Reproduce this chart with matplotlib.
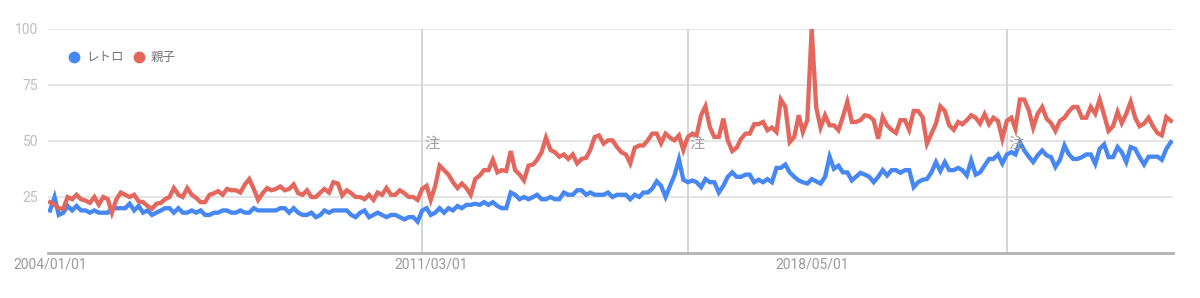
import matplotlib
matplotlib.use("Agg")
import matplotlib.pyplot as plt
import matplotlib.dates as mdates
from matplotlib.lines import Line2D
import pandas as pd

plt.rcParams['font.family'] = ['Roboto', 'Noto Sans CJK JP', 'DejaVu Sans']

# ---- data (monthly, 2004/01 onward) ----
start_month = "2004-01-01"
series_names = ["レトロ", "親子"]

retro = [
    19, 25, 17, 18, 21, 19, 21, 19, 19, 18, 19, 18,
    18, 18, 20, 20, 20, 20, 22, 19, 21, 18, 19, 17,
    18, 19, 20, 20, 18, 20, 18, 18, 19, 18, 19, 17,
    17, 18, 18, 19, 19, 18, 18, 19, 18, 18, 20, 19,
    19, 19, 19, 19, 20, 20, 18, 20, 18, 17, 17, 18,
    16, 17, 19, 18, 19, 19, 19, 19, 17, 16, 18, 19,
    16, 17, 18, 17, 16, 17, 17, 16, 15, 16, 16, 14,
    19, 20, 17, 18, 20, 18, 20, 19, 21, 20, 21.5, 21.5,
    22, 21.5, 22.7, 21.5, 22.7, 21, 20, 20, 27, 26, 24, 25,
    24, 25, 26, 24, 24, 25, 24, 24, 27, 26, 26, 28,
    28, 26, 27, 26, 26, 26, 27, 25, 26, 26, 26, 24,
    26, 25, 27, 27, 28.7, 32, 30, 25, 30, 34.6, 41.8, 32.7,
    31.6, 32.4, 31.6, 29.4, 33, 31.6, 31.6, 27, 30, 34, 36, 34,
    34, 35, 35, 31.6, 32.7, 31.6, 33, 31.6, 38, 38, 39.5,
    36, 34, 32.4, 31.6, 31, 33, 32, 31, 34, 43, 37.6, 39,
    36, 36, 32.4, 34, 35.8, 35, 34, 31.6, 34, 37, 34.6, 37,
    37, 35.8, 37, 37, 29.4, 31.6, 32.7, 33, 36, 40.6, 36.6, 40.6,
    37, 37, 38, 37, 34.6, 41.3, 35, 36, 39, 42, 42, 44,
    40, 44, 45, 44, 49.5, 45.8, 43, 40.6, 43.6, 45.8, 43.6, 42.8,
    38.4, 41.6, 48, 44.3, 42, 42, 42.8, 44, 44, 39.8, 46.5, 48.5,
    42.8, 42.8, 47.3, 45, 40.6, 47.3, 46.5, 42.8, 39.5, 43, 43, 43,
    41.6, 46.5, 49.5,
]

oyako = [
    22.7, 21.6, 20, 19.7, 25, 24, 26, 24, 23.4, 22.4, 25, 21.6,
    25, 24, 18, 24, 27, 26, 25, 26, 23, 22.7, 21, 19.7,
    22, 22.4, 24, 25, 29, 26, 25, 29, 26, 24.6, 22.7, 22.7,
    26, 26.7, 27.6, 26, 28.6, 28, 28, 27, 30.6, 33, 28.6, 23.7,
    26.7, 29, 28, 28.6, 29.7, 28, 28.6, 30.6, 26.7, 26, 28, 25,
    25, 27, 28.6, 27, 31.6, 31, 25.7, 28, 26.7, 25, 25, 24,
    26, 23.7, 27, 26, 29, 26, 26, 28, 26.7, 25, 25, 23.7,
    28.6, 30, 23.7, 30, 39, 37, 35, 31.6, 29, 31, 29, 26,
    33, 34.6, 37, 37, 41.6, 36, 37, 36.6, 45.5, 37, 35, 32.4,
    39, 39.5, 41.6, 45, 51.5, 46, 45, 43, 44, 42, 44, 40,
    42, 42.5, 46, 51.8, 52.5, 48.8, 50.3, 50.3, 47.3, 45, 44, 40,
    47, 48, 48, 50.3, 53.3, 53.3, 49, 53.3, 51.5, 50.3, 52.5, 46,
    51.8, 53.3, 52.5, 61.5, 65.5, 56, 51.8, 51.8, 60, 50.3, 45.5, 47,
    51, 53.3, 53.3, 57.5, 57.5, 58.5, 54.8, 56, 54, 68.5, 65.2,
    49.5, 51.8, 61.5, 54, 59.3, 100, 65, 56, 61.5, 57, 57, 54.8,
    60.7, 67.5, 58.5, 58.5, 59.3, 61.5, 61, 59.3, 51, 60.7, 57, 55,
    53.6, 59.3, 59.3, 55, 63.4, 63.4, 60.7, 48.8, 53.3, 57.8, 65.5, 63.4,
    57, 55, 58.5, 57.5, 59.3, 61.5, 60.4, 57.8, 62, 57.5, 60.4, 59,
    51, 59, 60.4, 55.5, 68.5, 68.5, 63.7, 56, 62.2, 65.2, 60, 58,
    54.5, 59, 60.4, 63, 65.2, 65.2, 60.4, 60.4, 65.2, 62.2, 68.5, 61.5,
    54.5, 56.6, 63, 58, 62.2, 67.5, 60.4, 56.6, 57.8, 60.4, 56.6, 53.6,
    52.5, 60.7, 59,
]

tick_dates = ["2004-01-01", "2011-03-01", "2018-05-01"]
tick_labels = ["2004/01/01", "2011/03/01", "2018/05/01"]
note_dates = ["2011-01-01", "2016-01-01", "2022-01-01"]
note_label = "注"
y_ticks = [25, 50, 75, 100]

colors = ["#4787f3", "#e3675d"]

# ---- figure ----
W, H = 1200, 298
fig = plt.figure(figsize=(W / 100, H / 100), dpi=100)
ax = fig.add_axes([48 / W, 1 - 253 / H, (1173 - 48) / W, (253 - 29) / H])

dates_r = pd.date_range(start_month, periods=len(retro), freq="MS")
dates_o = pd.date_range(start_month, periods=len(oyako), freq="MS")

# grid lines
for v in y_ticks:
    ax.axhline(v, color="#e3e3e3", lw=1.3, zorder=1)
for d in note_dates:
    ax.axvline(pd.Timestamp(d), color="#d5d5d5", lw=1.4, zorder=1)
ax.axhline(0, color="#b3b3b3", lw=2.0, zorder=2, clip_on=False)

ax.plot(dates_r, retro, color=colors[0], lw=3.1, solid_joinstyle="miter", zorder=3)
ax.plot(dates_o, oyako, color=colors[1], lw=3.1, solid_joinstyle="miter", zorder=4)

for d in note_dates:
    ax.annotate(note_label, xy=(pd.Timestamp(d), 50), xytext=(1.5, -1.5),
                textcoords="offset points", ha="left", va="center",
                fontsize=11, color="#a0a0a0", zorder=5,
                family=["Noto Sans CJK JP", "DejaVu Sans"])

ax.set_ylim(0, 100)
ax.set_xlim(pd.Timestamp(start_month) - pd.Timedelta(days=14),
            dates_r[-1] + pd.Timedelta(days=15))

ax.set_yticks(y_ticks)
ax.set_yticklabels([str(v) for v in y_ticks])
ax.set_xticks([pd.Timestamp(d) for d in tick_dates])
ax.set_xticklabels(tick_labels)
ax.tick_params(axis="y", length=0, pad=7, labelsize=10, labelcolor="#bdbdbd")
ax.tick_params(axis="x", length=0, pad=3, labelsize=10, labelcolor="#9a9a9a")
for s in ax.spines.values():
    s.set_visible(False)

# legend
leg_y = 1 - 57 / H
fig.add_artist(Line2D([74 / W], [leg_y], marker="o", markersize=7.5,
                      color=colors[0], lw=0, transform=fig.transFigure))
fig.text(86 / W, leg_y, series_names[0], ha="left", va="center",
         fontsize=9, color="#757575")
fig.add_artist(Line2D([139 / W], [leg_y], marker="o", markersize=7.5,
                      color=colors[1], lw=0, transform=fig.transFigure))
fig.text(151 / W, leg_y, series_names[1], ha="left", va="center",
         fontsize=9, color="#757575")

fig.savefig("out.png", dpi=100, facecolor="white")
